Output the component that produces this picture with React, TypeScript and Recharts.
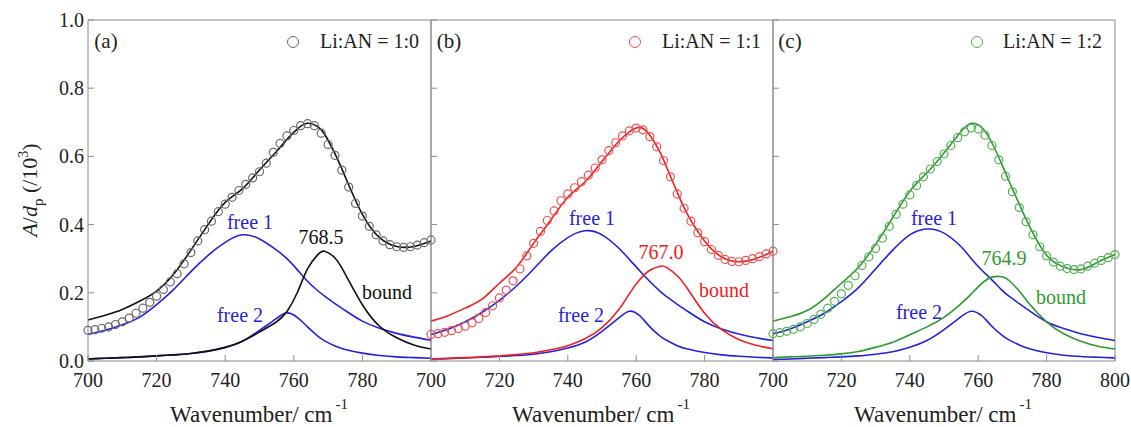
import React from "react";
import { ComposedChart, Line, XAxis, YAxis, ReferenceLine } from "recharts";

// wavenumber grids (cm^-1)
const WN_DATA = [
  700, 702, 704, 706, 708, 710, 712, 714, 716, 718, 720, 722, 724, 726, 728, 730, 732,
  734, 736, 738, 740, 742, 744, 746, 748, 750, 752, 754, 756, 758, 760, 762, 764, 766,
  768, 770, 772, 774, 776, 778, 780, 782, 784, 786, 788, 790, 792, 794, 796, 798, 800,
];
const WN_FIT = [
  700, 705, 710, 715, 720, 725, 730, 735, 740, 745, 750, 755, 758, 761, 764, 767, 769,
  772, 775, 780, 785, 790, 795, 800,
];

// (a) Li:AN = 1:0
const A_DATA = [
  0.09, 0.092, 0.096, 0.1, 0.107, 0.115, 0.126, 0.14, 0.155, 0.172, 0.19, 0.21, 0.232,
  0.256, 0.285, 0.318, 0.352, 0.385, 0.41, 0.438, 0.46, 0.48, 0.5, 0.518, 0.537, 0.555,
  0.58, 0.612, 0.638, 0.66, 0.676, 0.69, 0.696, 0.69, 0.668, 0.635, 0.603, 0.56, 0.51,
  0.462, 0.425, 0.395, 0.37, 0.352, 0.341, 0.335, 0.333, 0.335, 0.34, 0.347, 0.355,
];
const A_FIT = [
  0.12, 0.134, 0.151, 0.175, 0.205, 0.255, 0.325, 0.4, 0.465, 0.505, 0.56, 0.615, 0.65,
  0.68, 0.697, 0.687, 0.665, 0.608, 0.54, 0.43, 0.362, 0.336, 0.336, 0.352,
];
const A_FREE1 = [
  0.078, 0.09, 0.106, 0.128, 0.165, 0.21, 0.262, 0.31, 0.348, 0.37, 0.358, 0.325, 0.3,
  0.268, 0.234, 0.206, 0.19, 0.168, 0.148, 0.117, 0.096, 0.081, 0.07, 0.061,
];
const A_FREE2 = [
  0.006, 0.008, 0.01, 0.012, 0.015, 0.018, 0.022, 0.029, 0.04, 0.058, 0.09, 0.125, 0.141,
  0.128, 0.1, 0.073, 0.059, 0.044, 0.034, 0.023, 0.016, 0.012, 0.01, 0.008,
];
const A_BOUND = [
  0.006, 0.008, 0.01, 0.012, 0.015, 0.018, 0.022, 0.029, 0.04, 0.058, 0.085, 0.115, 0.145,
  0.2, 0.27, 0.312, 0.322, 0.302, 0.255, 0.165, 0.102, 0.068, 0.047, 0.035,
];

// (b) Li:AN = 1:1
const B_DATA = [
  0.078, 0.08, 0.084, 0.089, 0.095, 0.102, 0.112, 0.125, 0.142, 0.162, 0.185, 0.208,
  0.235, 0.27, 0.308, 0.345, 0.38, 0.412, 0.44, 0.47, 0.49, 0.508, 0.526, 0.545, 0.566,
  0.59, 0.617, 0.64, 0.66, 0.675, 0.683, 0.678, 0.658, 0.628, 0.588, 0.54, 0.49, 0.448,
  0.41, 0.376, 0.35, 0.327, 0.31, 0.298, 0.292, 0.291, 0.295, 0.3, 0.306, 0.314, 0.322,
];
const B_FIT = [
  0.117, 0.133, 0.155, 0.182, 0.228, 0.275, 0.345, 0.413, 0.48, 0.525, 0.585, 0.645,
  0.672, 0.685, 0.662, 0.612, 0.566, 0.495, 0.43, 0.352, 0.305, 0.291, 0.3, 0.322,
];
const B_FREE1 = [
  0.078, 0.093, 0.115, 0.143, 0.178, 0.22, 0.27, 0.322, 0.362, 0.382, 0.37, 0.33, 0.298,
  0.265, 0.233, 0.204, 0.188, 0.166, 0.146, 0.115, 0.094, 0.079, 0.068, 0.06,
];
const B_FREE2 = [
  0.006, 0.007, 0.009, 0.011, 0.013, 0.016, 0.02, 0.027, 0.038, 0.055, 0.087, 0.127,
  0.146, 0.133, 0.1, 0.073, 0.06, 0.045, 0.035, 0.025, 0.018, 0.014, 0.011, 0.009,
];
const B_BOUND = [
  0.006, 0.008, 0.01, 0.012, 0.015, 0.019, 0.024, 0.033, 0.045, 0.065, 0.098, 0.152, 0.197,
  0.238, 0.266, 0.278, 0.274, 0.25, 0.212, 0.14, 0.092, 0.063, 0.046, 0.036,
];

// (c) Li:AN = 1:2
const C_DATA = [
  0.08, 0.083, 0.087, 0.093, 0.1, 0.11, 0.122, 0.137, 0.155, 0.175, 0.197, 0.222, 0.25,
  0.28, 0.305, 0.33, 0.36, 0.395, 0.43, 0.46, 0.487, 0.515, 0.54, 0.563, 0.585, 0.607,
  0.632, 0.655, 0.672, 0.683, 0.68, 0.662, 0.632, 0.59, 0.542, 0.496, 0.45, 0.408, 0.37,
  0.335, 0.308, 0.29, 0.278, 0.271, 0.268, 0.27, 0.278, 0.287, 0.295, 0.303, 0.312,
];
const C_FIT = [
  0.117, 0.13, 0.148, 0.183, 0.228, 0.275, 0.342, 0.42, 0.498, 0.552, 0.61, 0.673, 0.697,
  0.685, 0.64, 0.575, 0.528, 0.46, 0.395, 0.31, 0.276, 0.268, 0.29, 0.312,
];
const C_FREE1 = [
  0.08, 0.094, 0.115, 0.14, 0.174, 0.215, 0.27, 0.325, 0.37, 0.387, 0.375, 0.335, 0.3,
  0.267, 0.238, 0.207, 0.19, 0.168, 0.147, 0.115, 0.095, 0.08, 0.069, 0.06,
];
const C_FREE2 = [
  0.005, 0.006, 0.008, 0.01, 0.012, 0.015, 0.02, 0.027, 0.04, 0.06, 0.092, 0.13, 0.146,
  0.133, 0.102, 0.075, 0.062, 0.047, 0.036, 0.024, 0.017, 0.013, 0.011, 0.009,
];
const C_BOUND = [
  0.01, 0.012, 0.014, 0.017, 0.021, 0.028, 0.04, 0.055, 0.077, 0.1, 0.128, 0.168, 0.197,
  0.227, 0.246, 0.247, 0.236, 0.205, 0.167, 0.115, 0.08, 0.058, 0.043, 0.035,
];

const Y_TICKS = [0, 0.2, 0.4, 0.6, 0.8, 1.0];
const X_TICKS = [700, 720, 740, 760, 780];
const X_TICKS_LAST = [700, 720, 740, 760, 780, 800];
const PEAKS = ["768.5", "767.0", "764.9"];
const RATIOS = ["Li:AN = 1:0", "Li:AN = 1:1", "Li:AN = 1:2"];

const SERIF =
  "'Liberation Serif', 'Times New Roman', Times, Tinos, 'DejaVu Serif', 'Noto Serif', serif";
const FRAME = "#8a8a8a";
const BLUE = "#2323dc";
const PAD = 22; // room for tick labels that hang over a panel's edge

const toRows = (xs: number[], ys: number[]) => xs.map((x, i) => ({ x, y: ys[i] }));

const xTick = (p: any) => (
  <g>
    <line x1={p.x} y1={p.y} x2={p.x} y2={p.y - 6} stroke={FRAME} />
    <text x={p.x} y={p.y + 26} textAnchor="middle" fontSize={20} fontFamily={SERIF} fill="#222">
      {p.payload.value}
    </text>
  </g>
);

const yTick = (showLabel: boolean) => (p: any) => (
  <g>
    <line x1={p.x} y1={p.y} x2={p.x + 6} y2={p.y} stroke={FRAME} />
    {showLabel && (
      <text x={p.x - 4} y={p.y + 7} textAnchor="end" fontSize={20} fontFamily={SERIF} fill="#222">
        {p.payload.value.toFixed(1)}
      </text>
    )}
  </g>
);

type PanelProps = {
  left: number;
  width: number;
  padLeft: number;
  yAxisWidth: number;
  showYLabels: boolean;
  xTicks: number[];
  data: number[];
  fit: number[];
  free1: number[];
  free2: number[];
  bound: number[];
  color: string;
  dotColor: string;
};

function Panel(props: PanelProps) {
  const { left, width, padLeft, yAxisWidth, showYLabels, xTicks, color, dotColor } = props;
  return (
    <div style={{ position: "absolute", left, top: 0 }}>
      <ComposedChart
        width={width}
        height={427}
        margin={{ top: 20, right: PAD, bottom: 65, left: padLeft }}
      >
        <XAxis
          type="number"
          dataKey="x"
          domain={[700, 800]}
          ticks={xTicks}
          interval={0}
          height={1}
          tickSize={0}
          tickMargin={0}
          tickLine={false}
          axisLine={{ stroke: FRAME }}
          tick={xTick}
        />
        <YAxis
          type="number"
          domain={[0, 1]}
          ticks={Y_TICKS}
          interval={0}
          width={yAxisWidth}
          tickSize={0}
          tickMargin={0}
          tickLine={false}
          axisLine={{ stroke: FRAME }}
          tick={yTick(showYLabels)}
        />
        <ReferenceLine y={1} stroke={FRAME} />
        <ReferenceLine x={800} stroke={FRAME} />
        <Line
          data={toRows(WN_DATA, props.data)}
          dataKey="y"
          stroke="none"
          dot={{ r: 4, fill: "none", stroke: dotColor, strokeWidth: 1.2 }}
          activeDot={false}
          isAnimationActive={false}
        />
        <Line data={toRows(WN_FIT, props.fit)} dataKey="y" type="natural" stroke={color} strokeWidth={1.6} dot={false} isAnimationActive={false} />
        <Line data={toRows(WN_FIT, props.free1)} dataKey="y" type="natural" stroke={BLUE} strokeWidth={1.6} dot={false} isAnimationActive={false} />
        <Line data={toRows(WN_FIT, props.free2)} dataKey="y" type="natural" stroke={BLUE} strokeWidth={1.6} dot={false} isAnimationActive={false} />
        <Line data={toRows(WN_FIT, props.bound)} dataKey="y" type="natural" stroke={color} strokeWidth={1.6} dot={false} isAnimationActive={false} />
      </ComposedChart>
    </div>
  );
}

const Txt = ({ x, y, color = "#111", size = 20, children }: any) => (
  <div
    style={{
      position: "absolute",
      left: x,
      top: y,
      transform: "translate(-50%, -50%)",
      color,
      fontSize: size,
      whiteSpace: "nowrap",
      lineHeight: 1,
    }}
  >
    {children}
  </div>
);

const LegendItem = ({ cx, textLeft, stroke, label }: any) => (
  <>
    <div
      style={{
        position: "absolute",
        left: cx - 6,
        top: 36,
        width: 12,
        height: 12,
        borderRadius: "50%",
        border: `1px solid ${stroke}`,
        boxSizing: "border-box",
      }}
    />
    <div style={{ position: "absolute", left: textLeft, top: 31, fontSize: 20, lineHeight: 1, color: "#222", whiteSpace: "nowrap" }}>
      {label}
    </div>
  </>
);

const XTitle = ({ cx }: { cx: number }) => (
  <Txt x={cx} y={414} size={23} color="#222">
    Wavenumber/ cm
    <span style={{ position: "relative", top: -13, fontSize: 15, marginLeft: 3 }}>-1</span>
  </Txt>
);

export default function App() {
  return (
    <div
      style={{
        position: "absolute",
        left: 0,
        top: 0,
        width: 1131,
        height: 427,
        background: "#fff",
        fontFamily: SERIF,
        overflow: "hidden",
      }}
    >
      {/* plot areas: (a) 88-431, (b) 431-773, (c) 773-1115 */}
      <Panel left={0} width={431 + PAD} padLeft={0} yAxisWidth={88} showYLabels xTicks={X_TICKS}
        data={A_DATA} fit={A_FIT} free1={A_FREE1} free2={A_FREE2} bound={A_BOUND}
        color="#111" dotColor="#6a6a6a" />
      <Panel left={430 - PAD} width={343 + 2 * PAD} padLeft={PAD} yAxisWidth={1} showYLabels={false} xTicks={X_TICKS}
        data={B_DATA} fit={B_FIT} free1={B_FREE1} free2={B_FREE2} bound={B_BOUND}
        color="#ee2020" dotColor="#f05050" />
      <Panel left={772 - PAD} width={343 + 2 * PAD} padLeft={PAD} yAxisWidth={1} showYLabels={false} xTicks={X_TICKS_LAST}
        data={C_DATA} fit={C_FIT} free1={C_FREE1} free2={C_FREE2} bound={C_BOUND}
        color="#2e9a2e" dotColor="#52b052" />

      {/* y axis title */}
      <div
        style={{
          position: "absolute",
          left: 30,
          top: 190,
          transform: "translate(-50%, -50%) rotate(-90deg)",
          fontSize: 22,
          lineHeight: 1,
          whiteSpace: "nowrap",
          color: "#222",
        }}
      >
        <i>A</i>/<i>d</i>
        <span style={{ position: "relative", top: 6, fontSize: 15 }}>p</span> (/10
        <span style={{ position: "relative", top: -9, fontSize: 14 }}>3</span>)
      </div>

      <XTitle cx={259} />
      <XTitle cx={601} />
      <XTitle cx={943} />

      <Txt x={106} y={41} size={21} color="#222">(a)</Txt>
      <Txt x={449} y={41} size={21} color="#222">(b)</Txt>
      <Txt x={790} y={41} size={21} color="#222">(c)</Txt>

      <LegendItem cx={293} textLeft={320} stroke="#6a6a6a" label={RATIOS[0]} />
      <LegendItem cx={635} textLeft={662} stroke="#f05050" label={RATIOS[1]} />
      <LegendItem cx={977} textLeft={1003} stroke="#52b052" label={RATIOS[2]} />

      <Txt x={250} y={222} color={BLUE}>free 1</Txt>
      <Txt x={240} y={315} color={BLUE}>free 2</Txt>
      <Txt x={321} y={237} color="#111">{PEAKS[0]}</Txt>
      <Txt x={387} y={292} color="#111">bound</Txt>

      <Txt x={592} y={218} color={BLUE}>free 1</Txt>
      <Txt x={581} y={315} color={BLUE}>free 2</Txt>
      <Txt x={661} y={252} color="#ee2020">{PEAKS[1]}</Txt>
      <Txt x={724} y={290} color="#ee2020">bound</Txt>

      <Txt x={934} y={218} color={BLUE}>free 1</Txt>
      <Txt x={919} y={312} color={BLUE}>free 2</Txt>
      <Txt x={1004} y={258} color="#2e9a2e">{PEAKS[2]}</Txt>
      <Txt x={1061} y={297} color="#2e9a2e">bound</Txt>
    </div>
  );
}
